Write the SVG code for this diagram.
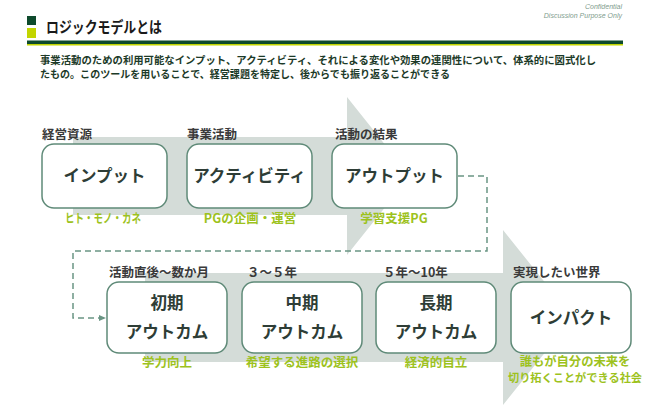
<svg xmlns="http://www.w3.org/2000/svg" width="650" height="417" viewBox="0 0 650 417">
<defs>
<style>
text{font-family:"Noto Sans CJK JP","Noto Sans",sans-serif;font-weight:bold}
.box{fill:#ffffff;stroke:#5f8a78;stroke-width:1.5}
.bt{font-size:16.5px;fill:#2e3d36;text-anchor:middle}
.lab{font-size:12.5px;fill:#3a3a3a}
.sub{font-size:12.5px;fill:#9dc21d;text-anchor:middle}
.desc{font-size:10.3px;fill:#1c3a28}
.conf{font-family:"Liberation Sans",sans-serif;font-style:italic;font-weight:normal;font-size:7px;fill:#7f9d8e;text-anchor:end}
.band{fill:#d4dcd8}
</style>
<marker id="ah" markerWidth="8" markerHeight="8" refX="6" refY="4" orient="auto" markerUnits="userSpaceOnUse">
<path d="M0,1 L7,4 L0,7 Z" fill="#6a9584"/>
</marker>
</defs>
<rect width="650" height="417" fill="#ffffff"/>
<!-- header -->
<text class="conf" x="622" y="9">Confidential</text>
<text class="conf" x="622" y="18">Discussion  Purpose Only</text>
<rect x="27" y="16" width="9" height="9" fill="#0e4a2c"/>
<rect x="27" y="28" width="9" height="10" fill="#c2d500"/>
<text x="46" y="33" font-size="15.5" fill="#1a1a1a" textLength="116" lengthAdjust="spacingAndGlyphs">ロジックモデルとは</text>
<rect x="27" y="40.5" width="596" height="3.5" fill="#0e4a2c"/>
<rect x="27" y="44" width="596" height="1.5" fill="#c2d500"/>
<text class="desc" x="40" y="64" textLength="556" lengthAdjust="spacingAndGlyphs">事業活動のための利用可能なインプット、アクティビティ、それによる変化や効果の連関性について、体系的に図式化し</text>
<text class="desc" x="40" y="78" textLength="410" lengthAdjust="spacingAndGlyphs">たもの。このツールを用いることで、経営課題を特定し、後からでも振り返ることができる</text>
<!-- band arrows -->
<path class="band" d="M73,137 H347 V97 L410,176 L347,255 V215 H73 Z"/>
<path class="band" d="M145,273 H503 V230 L573,317.5 L503,405 V362 H145 Z"/>
<!-- connectors -->
<g id="connectors">
<path d="M458,176 H487 V251 H73 V318 H105" fill="none" stroke="#6a9584" stroke-width="1.5" stroke-dasharray="6,4" marker-end="url(#ah)"/>
</g>
<!-- top row -->
<g id="input">
<text class="lab" x="42" y="139">経営資源</text>
<rect class="box" x="42" y="144" width="125" height="64" rx="12"/>
<text class="bt" x="104.5" y="182">インプット</text>
<text class="sub" x="103" y="223" textLength="76" lengthAdjust="spacingAndGlyphs">ヒト・モノ・カネ</text>
</g>
<g id="activity">
<text class="lab" x="187" y="139">事業活動</text>
<rect class="box" x="187" y="144" width="125" height="64" rx="12"/>
<text class="bt" x="249.5" y="182">アクティビティ</text>
<text class="sub" x="250" y="223">PGの企画・運営</text>
</g>
<g id="output">
<text class="lab" x="335" y="139">活動の結果</text>
<rect class="box" x="332" y="144" width="125" height="64" rx="12"/>
<text class="bt" x="394.5" y="182">アウトプット</text>
<text class="sub" x="394" y="223">学習支援PG</text>
</g>
<!-- bottom row -->
<g id="short">
<text class="lab" x="109" y="277">活動直後～数か月</text>
<rect class="box" x="107" y="282" width="120" height="71" rx="12"/>
<text class="bt" x="167" y="309">初期</text>
<text class="bt" x="167" y="338">アウトカム</text>
<text class="sub" x="167" y="367">学力向上</text>
</g>
<g id="mid">
<text class="lab" x="247" y="277">３～５年</text>
<rect class="box" x="242" y="282" width="120" height="71" rx="12"/>
<text class="bt" x="302" y="309">中期</text>
<text class="bt" x="302" y="338">アウトカム</text>
<text class="sub" x="302" y="367">希望する進路の選択</text>
</g>
<g id="long">
<text class="lab" x="383" y="277">５年～10年</text>
<rect class="box" x="376" y="282" width="120" height="71" rx="12"/>
<text class="bt" x="436" y="309">長期</text>
<text class="bt" x="436" y="338">アウトカム</text>
<text class="sub" x="436" y="367">経済的自立</text>
</g>
<g id="impact">
<text class="lab" x="513" y="277">実現したい世界</text>
<rect class="box" x="511" y="282" width="120" height="71" rx="12"/>
<text class="bt" x="571" y="324">インパクト</text>
<text class="sub" x="575" y="366" style="font-size:12.3px">誰もが自分の未来を</text>
<text class="sub" x="575" y="382" style="font-size:11.2px">切り拓くことができる社会</text>
</g>
</svg>
